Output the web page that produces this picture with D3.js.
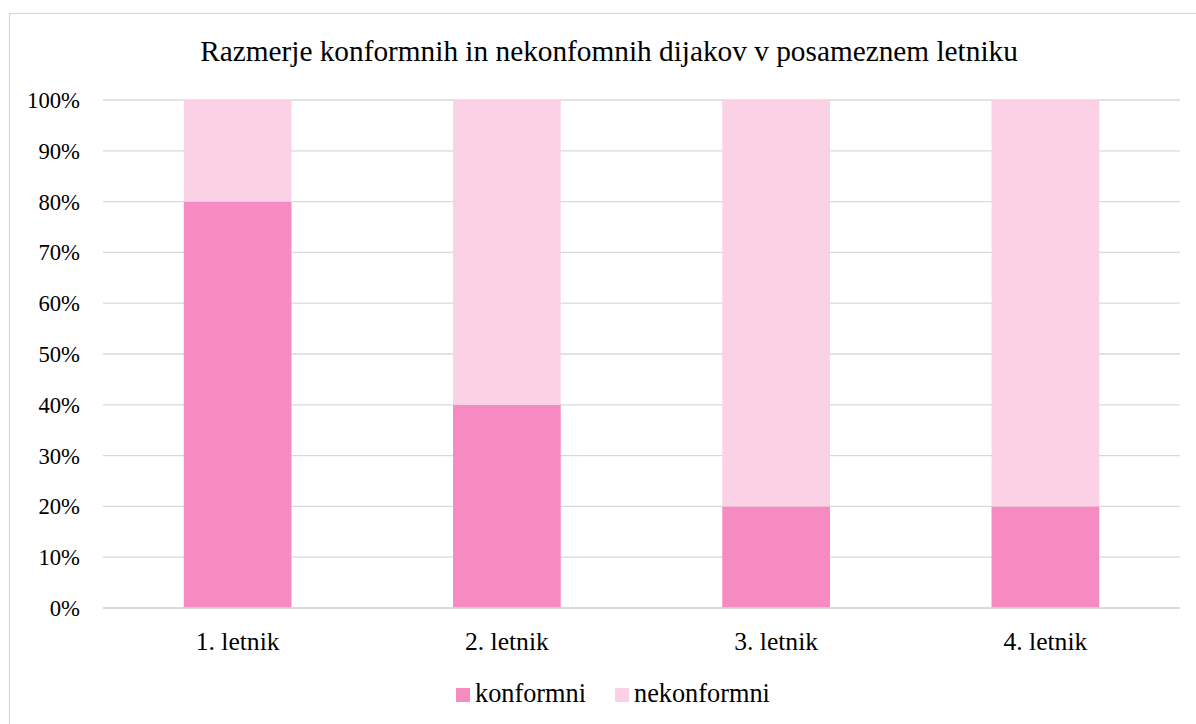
<!DOCTYPE html>
<html>
<head>
<meta charset="utf-8">
<script src="https://cdn.jsdelivr.net/npm/d3@7"></script>
<style>
  body { margin: 0; background: #fff; }
</style>
</head>
<body>
<div class="chart"></div>
<script>
// data
const categories = ['1. letnik', '2. letnik', '3. letnik', '4. letnik'];
const konformni = [0.8, 0.4, 0.2, 0.2];
const nekonformni = [0.2, 0.6, 0.8, 0.8];
const seriesNames = ['konformni', 'nekonformni'];
const seriesColors = ['#f68bc1', '#fad1e5'];
const yTicks = [0, 0.1, 0.2, 0.3, 0.4, 0.5, 0.6, 0.7, 0.8, 0.9, 1];

const FONT = "'Liberation Serif', 'Times New Roman', serif";
const W = 1196, H = 724;
const svg = d3.select('div.chart').append('svg')
    .attr('width', W)
    .attr('height', H)
    .attr('font-family', FONT);

// chart frame (runs off the right and bottom edge like the original)
svg.append('rect')
    .attr('x', 9.5).attr('y', 13.5)
    .attr('width', 1200).attr('height', 720)
    .attr('fill', 'none')
    .attr('stroke', '#d9d9d9')
    .attr('stroke-width', 1.3);

svg.append('text')
    .attr('x', 609).attr('y', 61)
    .attr('text-anchor', 'middle')
    .attr('font-size', 29.3)
    .text('Razmerje konformnih in nekonfomnih dijakov v posameznem letniku');

const plot = {left: 103, right: 1180, top: 100, bottom: 608};

const x = d3.scaleBand().domain(categories).range([plot.left, plot.right]).padding(0);
const y = d3.scaleLinear().domain([0, 1]).range([plot.bottom, plot.top]);

// gridlines
svg.append('g').selectAll('line')
    .data(yTicks)
    .enter().append('line')
    .attr('x1', plot.left).attr('x2', plot.right)
    .attr('y1', d => y(d)).attr('y2', d => y(d))
    .attr('stroke', '#d9d9d9')
    .attr('stroke-width', 1.3);

// y labels
svg.append('g').selectAll('text')
    .data(yTicks)
    .enter().append('text')
    .attr('x', 80)
    .attr('y', d => y(d))
    .attr('dy', '0.35em')
    .attr('text-anchor', 'end')
    .attr('font-size', 22.7)
    .text(d => d3.format('.0%')(d));

// stacked bars
const rows = categories.map((c, i) => ({cat: c, konformni: konformni[i], nekonformni: nekonformni[i]}));
const stacked = d3.stack().keys(seriesNames)(rows);
const barW = x.bandwidth() * 0.4;

svg.append('g').selectAll('g')
    .data(stacked)
    .enter().append('g')
    .attr('fill', (d, i) => seriesColors[i])
    .selectAll('rect')
    .data(d => d)
    .enter().append('rect')
    .attr('x', d => x(d.data.cat) + x.bandwidth() / 2 - barW / 2)
    .attr('width', barW)
    .attr('y', d => y(d[1]))
    .attr('height', d => y(d[0]) - y(d[1]));

// baseline drawn over bars
svg.append('line')
    .attr('x1', plot.left).attr('x2', plot.right)
    .attr('y1', y(0)).attr('y2', y(0))
    .attr('stroke', '#d9d9d9')
    .attr('stroke-width', 1.3);

// category labels
svg.append('g').selectAll('text')
    .data(categories)
    .enter().append('text')
    .attr('x', d => x(d) + x.bandwidth() / 2)
    .attr('y', 650)
    .attr('text-anchor', 'middle')
    .attr('font-size', 25.6)
    .text(d => d);

// legend
const legendX = [456, 615];
const legend = svg.append('g').selectAll('g')
    .data(seriesNames)
    .enter().append('g')
    .attr('transform', (d, i) => `translate(${legendX[i]},688)`);
legend.append('rect')
    .attr('width', 14).attr('height', 14)
    .attr('fill', (d, i) => seriesColors[i]);
legend.append('text')
    .attr('x', 19).attr('y', 14)
    .attr('font-size', 26.3)
    .text(d => d);
</script>
</body>
</html>
